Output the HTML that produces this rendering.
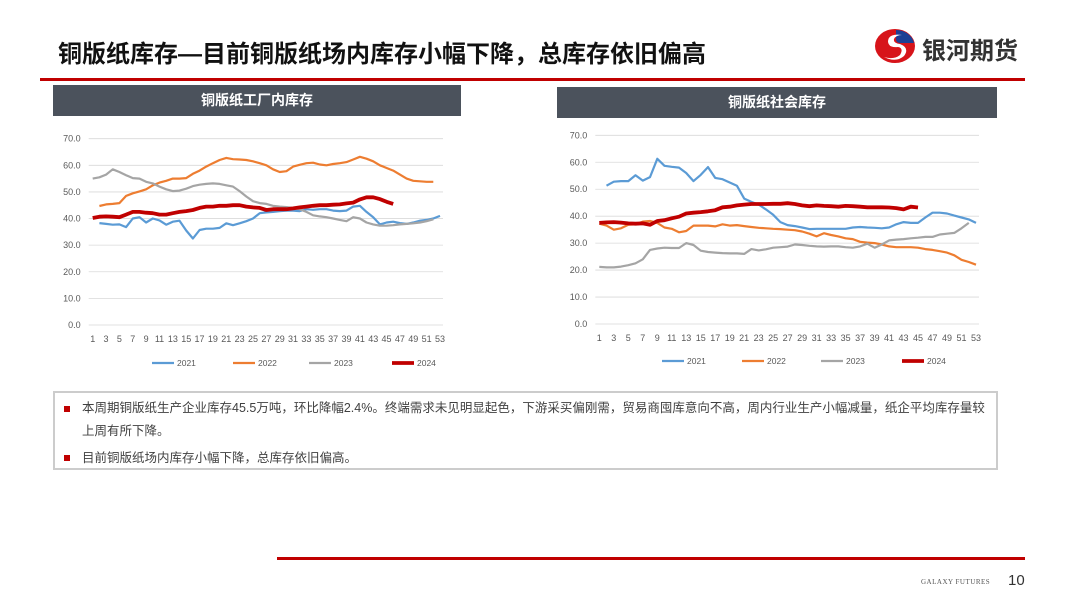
<!DOCTYPE html><html><head><meta charset="utf-8"><style>
body{margin:0;width:1080px;height:608px;background:#fff;position:relative;overflow:hidden;font-family:"Liberation Sans","Noto Sans CJK SC",sans-serif}
.a{position:absolute}
.hd{background:#4b525c;color:#fff;font-weight:bold;font-size:14px;text-align:center;line-height:31px}
.tx{font-size:12.5px;color:#404040;line-height:23px}
.b{position:absolute;left:12px;width:6px;height:6px;background:#c00000}
</style></head><body>
<div class="a" style="left:58px;top:40px;font-size:24px;line-height:30px;font-weight:bold;color:#111;white-space:nowrap">铜版纸库存—目前铜版纸场内库存小幅下降，总库存依旧偏高</div>
<div class="a" style="left:40px;top:78px;width:985px;height:3px;background:#c00000"></div>
<svg class="a" style="left:874px;top:27px" width="42" height="38" viewBox="0 0 42 38"><ellipse cx="21" cy="19" rx="20" ry="17" fill="#d7141a"/><path d="M22 3 A18 16 0 0 1 40 16 L26 16 Q22 16 22 12 Z" fill="#1d3f94"/><path d="M28 8 Q14 6 14 15 Q15 21 24 20 Q30 21 26 28 Q20 33 10 30 Q22 36 30 29 Q36 21 26 17 Q19 16 20 12 Q22 8 28 8Z" fill="#fff"/></svg>
<div class="a" style="left:922px;top:31px;font-size:24px;font-weight:bold;color:#333">银河期货</div>
<div class="a hd" style="left:53px;top:85px;width:408px">铜版纸工厂内库存</div>
<div class="a hd" style="left:557px;top:87px;width:440px">铜版纸社会库存</div>
<svg id="s" class="a" style="left:0;top:0" width="1080" height="390"></svg>
<div class="a" style="left:53px;top:391px;width:941px;height:75px;border:2px solid #ccc"></div>
<div class="a tx" style="left:82px;top:397px;width:905px">本周期铜版纸生产企业库存45.5万吨，环比降幅2.4%。终端需求未见明显起色，下游采买偏刚需，贸易商囤库意向不高，周内行业生产小幅减量，纸企平均库存量较上周有所下降。</div>
<div class="b" style="left:64px;top:406px"></div>
<div class="a tx" style="left:82px;top:447px">目前铜版纸场内库存小幅下降，总库存依旧偏高。</div>
<div class="b" style="left:64px;top:455px"></div>
<div class="a" style="left:277px;top:557px;width:748px;height:3px;background:#c00000"></div>
<div class="a" style="left:921px;top:578px;font-size:7px;color:#555;font-family:'Liberation Serif',serif;letter-spacing:.5px">GALAXY FUTURES</div>
<div class="a" style="left:1008px;top:572px;font-size:15px;color:#333">10</div>
<script>
const L={x0:92.7,x1:440,y0:325,y70:138.7,lx:[152,233,309,392],ly:363,fs:9,
d:[[2,[38.3,38,37.7,37.8,36.8,40,40.5,38.5,40,39.3,37.7,38.8,39.2,35.5,32.5,35.7,36.2,36.2,36.5,38.2,37.5,38.2,39,40,42,42.3,42.5,42.8,43,43,42.8,43.5,43.3,43.5,43.5,43,42.8,43,44.5,44.8,42.5,40.5,37.8,38.5,38.8,38.3,38,38.5,39.2,39.5,40,41,42,43.3]],
[2,[44.7,45.3,45.5,45.8,48.5,49.5,50.2,51,52.5,53.5,54.2,55,55,55.2,56.8,58,59.5,60.8,62,62.8,62.3,62.2,62,61.5,60.8,60,58.5,57.5,57.8,59.5,60.2,60.8,61,60.3,60,60.5,60.8,61.2,62.2,63.2,62.5,61.5,60,59,58,56.5,55,54.2,54,53.8,53.8]],
[1,[55,55.5,56.5,58.5,57.5,56.3,55.2,55,53.8,53.2,52,51,50.3,50.5,51.2,52.2,52.7,53,53.2,53,52.5,52,50.3,48.3,46.5,45.8,45.5,44.8,44.5,44.3,44,43.5,42.5,41.2,40.8,40.5,40,39.5,39,40.5,40,38.5,37.8,37.3,37.3,37.5,37.8,38,38.2,38.5,39,39.7]],
[1,[40.2,40.7,40.8,40.7,40.5,41.5,42.5,42.5,42.2,42,41.5,41.5,42,42.5,42.8,43.2,44,44.5,44.5,44.8,44.8,45,45,44.5,44.2,44,43.2,43.5,43.5,43.5,43.8,44.2,44.5,44.8,45,45,45.2,45.3,45.7,46,47.2,48,48,47.3,46.3,45.5]]]};
const R={x0:599.3,x1:976,y0:324,y70:135.3,lx:[662,742,821,902],ly:361,fs:9,
d:[[2,[51.3,52.8,53,53,55.2,53.2,54.5,61.3,58.7,58.3,58,56,53,55.3,58.2,54.2,53.7,52.5,51.3,46.5,45.3,44.3,42.5,40.5,37.8,36.7,36.3,35.8,35.2,35.3,35.3,35.3,35.3,35.3,35.8,36,35.8,35.7,35.5,35.8,37,37.8,37.5,37.5,39.5,41.3,41.3,41,40.2,39.5,38.8,37.5,36.8]],
[1,[37.2,36.5,35,35.5,36.8,37,38,38.2,37.5,35.8,35.3,34,34.5,36.5,36.5,36.5,36.2,37,36.5,36.7,36.3,36,35.7,35.5,35.3,35.2,35,34.8,34.3,33.5,32.5,33.7,33,32.5,31.8,31.5,30.5,30.2,30,29.5,28.8,28.5,28.5,28.5,28.3,27.8,27.5,27,26.5,25.5,23.8,23,22,21.3]],
[1,[21.2,21,21,21.3,21.8,22.5,24,27.5,28,28.3,28.2,28.2,30,29.3,27.2,26.7,26.5,26.3,26.2,26.2,26,27.8,27.3,27.7,28.3,28.5,28.7,29.5,29.3,29,28.8,28.7,28.8,28.8,28.5,28.3,28.8,29.8,28.3,29.5,31,31.3,31.5,31.8,32,32.3,32.3,33.2,33.5,33.8,35.5,37.5]],
[1,[37.5,37.7,37.8,37.6,37.3,37.2,37.3,36.8,38.2,38.5,39.2,39.8,41,41.3,41.5,41.8,42.2,43.3,43.5,44,44.3,44.5,44.5,44.5,44.6,44.6,44.8,44.5,44,43.7,44,43.8,43.7,43.5,43.8,43.7,43.5,43.3,43.3,43.3,43.2,43,42.5,43.5,43.2]]]};
const col=['#5b9bd5','#ed7d31','#a5a5a5','#c00000'],wd=[2.2,2.2,2.2,3.8],nm=['2021','2022','2023','2024'];
let h='';
for(const C of [L,R]){const st=(C.x1-C.x0)/52,sy=(C.y0-C.y70)/70;
for(let v=0;v<=70;v+=10){const y=C.y0-v*sy;h+=`<line x1="${C.x0-4}" x2="${C.x1+3}" y1="${y}" y2="${y}" stroke="#d9d9d9" stroke-width="0.8"/><text x="${C.x0-12}" y="${y+3}" font-size="${C.fs}" fill="#595959" text-anchor="end">${v.toFixed(1)}</text>`;}
for(let w=1;w<=53;w+=2)h+=`<text x="${C.x0+(w-1)*st}" y="${C.y0+17}" font-size="${C.fs}" fill="#595959" text-anchor="middle">${w}</text>`;
C.d.forEach((s,i)=>{const p=s[1].slice(0,54-s[0]).map((v,j)=>(C.x0+(s[0]+j-1)*st).toFixed(1)+','+(C.y0-v*sy).toFixed(1)).join(' ');
h+=`<polyline points="${p}" fill="none" stroke="${col[i]}" stroke-width="${wd[i]}" stroke-linejoin="round"/>`;
h+=`<line x1="${C.lx[i]}" x2="${C.lx[i]+22}" y1="${C.ly}" y2="${C.ly}" stroke="${col[i]}" stroke-width="${wd[i]}"/><text x="${C.lx[i]+25}" y="${C.ly+3}" font-size="8.5" fill="#595959">${nm[i]}</text>`;});}
document.getElementById('s').innerHTML=h;
</script>
</body></html>
